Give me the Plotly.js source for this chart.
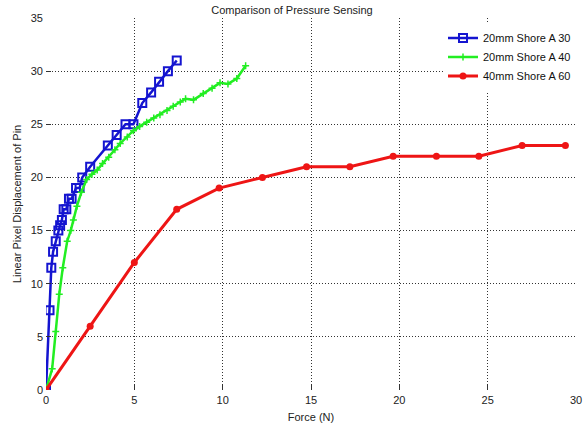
<!DOCTYPE html>
<html>
<head>
<meta charset="utf-8">
<script src="https://cdn.plot.ly/plotly-3.0.1.min.js"></script>
<style>html,body{margin:0;padding:0;background:#fff;}#chart{width:584px;height:425px;}</style>
</head>
<body>
<div id="chart"></div>
<script>
// Series: 20mm Shore A 30
const blueX = [0, 0.2, 0.3, 0.4, 0.55, 0.7, 0.8, 0.9, 1.0, 1.15, 1.3, 1.45, 1.7, 1.9, 2.05, 2.5, 3.5, 4.0, 4.5, 4.95, 5.45, 5.95, 6.4, 6.9, 7.4];
const blueY = [0, 7.5, 11.5, 13, 14, 15, 15.5, 16, 17, 17, 18, 18, 19, 19, 20, 21, 23, 24, 25, 25, 27, 28, 29, 30, 31];
// Series: 20mm Shore A 40
const greenX = [0, 0.35, 0.55, 0.75, 0.95, 1.2, 1.4, 1.55, 1.75, 2.0, 2.3, 2.6, 2.9, 3.2, 3.55, 3.9, 4.2, 4.6, 4.95, 5.3, 5.7, 6.1, 6.45, 6.85, 7.2, 7.6, 7.9, 8.35, 8.9, 9.4, 9.85, 10.3, 10.8, 11.3];
const greenY = [0, 2, 5.5, 9, 11.5, 14, 15, 16, 17.3, 18.6, 19.8, 20.3, 20.7, 21.3, 21.9, 22.6, 23.2, 23.8, 24.4, 24.8, 25.2, 25.6, 25.9, 26.3, 26.7, 27.1, 27.4, 27.3, 27.9, 28.4, 28.9, 28.8, 29.3, 30.5];
// Series: 40mm Shore A 60
const redX = [0, 2.5, 5, 7.4, 9.8, 12.25, 14.75, 17.2, 19.65, 22.1, 24.5, 26.95, 29.4];
const redY = [0, 6, 12, 17, 19, 20, 21, 21, 22, 22, 22, 23, 23];

const seriesNames = ["20mm Shore A 30", "20mm Shore A 40", "40mm Shore A 60"];
const xTicks = [0, 5, 10, 15, 20, 25, 30];
const yTicks = [0, 5, 10, 15, 20, 25, 30, 35];

const font = {family: "Liberation Sans, Arial, sans-serif", size: 11, color: "#222"};

const traces = [
  {x: blueX, y: blueY, name: seriesNames[0], type: "scatter", mode: "lines+markers",
   line: {color: "#1414d0", width: 2.5},
   marker: {symbol: "square-open", size: 8, color: "#1414d0", line: {width: 2, color: "#1414d0"}}},
  {x: greenX, y: greenY, name: seriesNames[1], type: "scatter", mode: "lines+markers",
   line: {color: "#22ee22", width: 2.5},
   marker: {symbol: "cross-thin-open", size: 5, color: "#22ee22", line: {width: 1.5, color: "#22ee22"}}},
  {x: redX, y: redY, name: seriesNames[2], type: "scatter", mode: "lines+markers",
   line: {color: "#ee1515", width: 3},
   marker: {symbol: "circle", size: 7, color: "#ee1515"}}
];

const layout = {
  width: 584, height: 425,
  margin: {l: 46, r: 8, t: 18, b: 35},
  paper_bgcolor: "#fff", plot_bgcolor: "#fff",
  font: font,
  title: {text: "Comparison of Pressure Sensing", font: {family: font.family, size: 11, color: "#222"}, x: 0.5, xanchor: "center", y: 0.985, yanchor: "top"},
  showlegend: true,
  legend: {x: 1, xanchor: "right", y: 0.985, yanchor: "top", bgcolor: "rgba(255,255,255,1)", borderwidth: 0,
           font: {family: font.family, size: 11, color: "#111"}, tracegroupgap: 0},
  xaxis: {range: [0, 30], tickvals: xTicks, ticktext: xTicks.map(String),
          showgrid: true, gridcolor: "#333", griddash: "1px,2px", gridwidth: 1,
          zeroline: false, showline: false, ticks: "inside", ticklen: 5, tickcolor: "#333",
          ticklabelstandoff: 2,
          title: {text: "Force (N)", font: {family: font.family, size: 11, color: "#222"}, standoff: 8},
          tickfont: font, fixedrange: true},
  yaxis: {range: [0, 35], tickvals: yTicks, ticktext: yTicks.map(String),
          showgrid: true, gridcolor: "#333", griddash: "1px,2px", gridwidth: 1,
          zeroline: false, showline: false, ticks: "inside", ticklen: 5, tickcolor: "#333",
          ticklabelstandoff: 2,
          title: {text: "Linear Pixel Displacement of Pin", font: {family: font.family, size: 11, color: "#222"}, standoff: 6},
          tickfont: font, fixedrange: true}
};

Plotly.newPlot("chart", traces, layout, {displayModeBar: false, staticPlot: true});
</script>
</body>
</html>
